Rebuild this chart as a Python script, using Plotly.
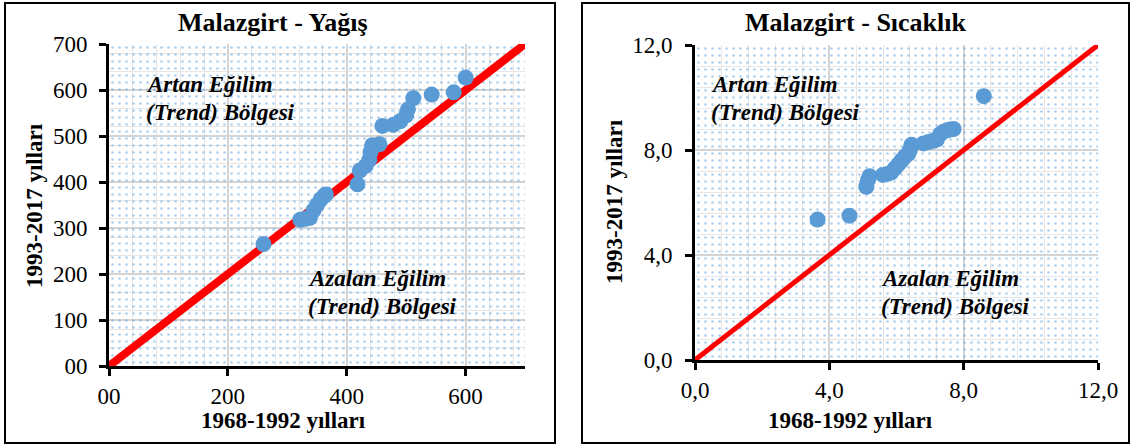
import plotly.graph_objects as go

W, H = 1132, 446

# ---- data ----
rain_x = [260, 322, 330, 338, 344, 350, 356, 362, 365, 418, 422, 432, 438, 440, 443,
          455, 460, 478, 490, 500, 503, 512, 543, 580, 600]
rain_y = [265, 318, 320, 322, 338, 350, 362, 370, 373, 395, 425, 435, 448, 465, 480,
          482, 522, 524, 532, 545, 558, 582, 590, 595, 627]
temp_x = [3.65, 4.6, 5.1, 5.15, 5.2, 5.6, 5.75, 5.85, 5.95, 6.05, 6.15, 6.25, 6.35, 6.4,
          6.45, 6.8, 6.95, 7.1, 7.2, 7.3, 7.4, 7.5, 7.6, 7.7, 8.6]
temp_y = [5.35, 5.5, 6.6, 6.85, 7.0, 7.05, 7.1, 7.15, 7.3, 7.45, 7.6, 7.75, 7.85, 8.0,
          8.2, 8.25, 8.3, 8.35, 8.4, 8.6, 8.7, 8.75, 8.78, 8.8, 10.05]

rain_max = 700
temp_max = 12
rain_xticks = [0, 200, 400, 600]
rain_xtext = ["00", "200", "400", "600"]
rain_yticks = [0, 100, 200, 300, 400, 500, 600, 700]
rain_ytext = ["00", "100", "200", "300", "400", "500", "600", "700"]
temp_ticks = [0, 4, 8, 12]
temp_text = ["0,0", "4,0", "8,0", "12,0"]

FONT = "Times New Roman, Liberation Serif, serif"
BLUE = "#5b9bd5"

fig = go.Figure()

def px(x):
    return x / W

def py(y):
    return 1 - y / H

def panel(xs, ys, vmax, xa, ya, lw):
    # dotted background
    fig.add_trace(go.Scatter(
        x=[0, vmax, vmax, 0, 0], y=[0, 0, vmax, vmax, 0], mode="lines",
        fill="toself", line=dict(width=0), fillcolor="rgba(0,0,0,0)",
        fillpattern=dict(shape=".", fgcolor="#5f9fdc", bgcolor="rgba(0,0,0,0)",
                         size=7, solidity=0.12),
        xaxis=xa, yaxis=ya, hoverinfo="skip", showlegend=False))
    # 1:1 line
    fig.add_trace(go.Scatter(
        x=[0, vmax], y=[0, vmax], mode="lines", line=dict(color="#ff0000", width=lw),
        xaxis=xa, yaxis=ya, showlegend=False, cliponaxis=True))
    fig.add_trace(go.Scatter(
        x=xs, y=ys, mode="markers", marker=dict(color=BLUE, size=16),
        xaxis=xa, yaxis=ya, showlegend=False, cliponaxis=False))

panel(rain_x, rain_y, rain_max, "x", "y", 8)
panel(temp_x, temp_y, temp_max, "x2", "y2", 5)

axis_common = dict(
    showline=True, linecolor="black", linewidth=3, ticks="outside", ticklen=7,
    tickwidth=3, tickcolor="black", showgrid=True, gridcolor="#d4d4d4", gridwidth=2,
    zeroline=False, tickfont=dict(family=FONT, size=23, color="black"),
    automargin=False, fixedrange=True,
)

fig.update_layout(
    width=W, height=H, margin=dict(l=0, r=0, t=0, b=0),
    paper_bgcolor="white", plot_bgcolor="white",
    xaxis=dict(domain=[px(109), px(525)], range=[0, rain_max], anchor="y",
               tickvals=rain_xticks, ticktext=rain_xtext,
               minor=dict(dtick=40, showgrid=True, gridcolor="#e6e6e6", gridwidth=1),
               **axis_common),
    yaxis=dict(domain=[py(366), py(44)], range=[0, rain_max], anchor="x",
               tickvals=rain_yticks, ticktext=rain_ytext, ticklabelstandoff=7,
               minor=dict(dtick=40, showgrid=True, gridcolor="#e6e6e6", gridwidth=1),
               **axis_common),
    xaxis2=dict(domain=[px(695), px(1098)], range=[0, temp_max], anchor="y2",
                tickvals=temp_ticks, ticktext=temp_text,
                minor=dict(dtick=0.8, showgrid=True, gridcolor="#e6e6e6", gridwidth=1),
                **axis_common),
    yaxis2=dict(domain=[py(360), py(45)], range=[0, temp_max], anchor="x2",
                tickvals=temp_ticks, ticktext=temp_text, ticklabelstandoff=8,
                minor=dict(dtick=0.8, showgrid=True, gridcolor="#e6e6e6", gridwidth=1),
                **axis_common),
)

def text(x, y, s, size=23, bold=True, italic=False, anchor="center", angle=0):
    fig.add_annotation(
        x=px(x), y=py(y), xref="paper", yref="paper", text=s, showarrow=False,
        xanchor=anchor, yanchor="middle", textangle=angle,
        align="left" if anchor == "left" else "center", borderpad=0,
        font=dict(family=FONT, size=size, color="black",
                  weight="bold" if bold else "normal",
                  style="italic" if italic else "normal"))

# titles
text(273, 22, "Malazgirt - Yağış", size=26)
text(856, 22, "Malazgirt - Sıcaklık", size=26)
# axis titles
text(283, 420, "1968-1992 yılları")
text(850, 420, "1968-1992 yılları")
text(34, 206, "1993-2017 yılları", angle=-90)
text(614, 202, "1993-2017 yılları", angle=-90)
# region labels
text(145, 84, "Artan Eğilim", italic=True, anchor="left")
text(145, 112, "(Trend) Bölgesi", italic=True, anchor="left")
text(307, 278, "Azalan Eğilim", italic=True, anchor="left")
text(307, 306, "(Trend) Bölgesi", italic=True, anchor="left")
text(710, 84, "Artan Eğilim", italic=True, anchor="left")
text(710, 112, "(Trend) Bölgesi", italic=True, anchor="left")
text(880, 278, "Azalan Eğilim", italic=True, anchor="left")
text(880, 306, "(Trend) Bölgesi", italic=True, anchor="left")

# panel borders
fig.add_shape(type="rect", xref="paper", yref="paper", x0=px(5), x1=px(555),
              y0=py(443), y1=py(3), line=dict(color="black", width=2))
fig.add_shape(type="rect", xref="paper", yref="paper", x0=px(582), x1=px(1129),
              y0=py(443), y1=py(3), line=dict(color="black", width=2))

fig.write_html("out.html", config={"displayModeBar": False},
               post_script="document.body.style.margin='0';document.body.style.overflow='hidden';")
